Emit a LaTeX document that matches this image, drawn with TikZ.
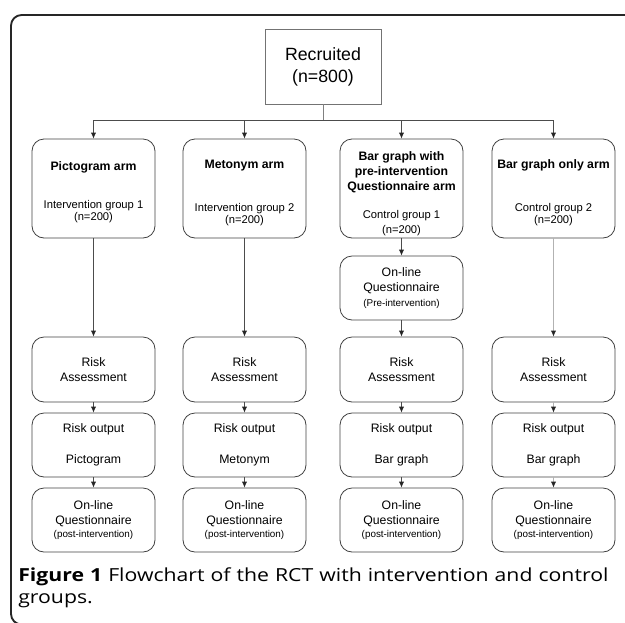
\documentclass[tikz,border=0pt]{standalone}
\usepackage{fontspec}
\setmainfont{Liberation Sans}
\newfontfamily\captionfont[FakeStretch=1.18]{Open Sans}
\usetikzlibrary{arrows.meta}

\newcommand{\grouptxt}[1]{{\fontsize{8.4}{11.25}\selectfont #1}}
\newcommand{\notetxt}[1]{{\fontsize{7.4}{11.25}\selectfont #1}}

\begin{document}
\begin{tikzpicture}[x=0.75pt, y=-0.75pt,
  armbox/.style={draw=black!75, line width=0.6pt, rounded corners=9pt,
    minimum width=92.25pt, minimum height=48pt, inner sep=0pt, align=center,
    font=\fontsize{9.2}{11.25}\selectfont},
  headbox/.style={armbox, minimum height=74.25pt},
  flow/.style={draw=black!70, line width=0.6pt,
    -{Latex[length=4.5pt,width=4pt,color=black!85]}},
  faint/.style={flow, draw=black!30}]
  \useasboundingbox (0,0) rectangle (625,622);
  \clip (0,0) rectangle (625,622);

  % Rahmen
  \draw[line width=1.4pt, black!85, rounded corners=8pt] (11,624.5) rectangle (645,15);

  % Recruited
  \node[draw=black!55, line width=0.6pt, minimum width=87pt, minimum height=56.25pt,
    align=center, font=\fontsize{13.3}{16.5}\selectfont] (recruited) at (323,66.5)
    {Recruited\\(n=800)};
  \coordinate (split) at (323,120);

  % Arms
  \node[headbox] (pictogram) at (93.5,188.5) {
    \rule{0pt}{12.7pt}\textbf{Pictogram arm}\\[17pt]
    \grouptxt{Intervention group 1}\\[-2pt]
    \grouptxt{(n=200)}
  };
  \node[headbox] (metonym) at (244.5,188.5) {
    \rule{0pt}{12.7pt}\textbf{Metonym arm}\\[21pt]
    \grouptxt{Intervention group 2}\\[-2pt]
    \grouptxt{(n=200)}
  };
  \node[headbox] (bargraphpre) at (401.5,188.5) {
    \rule{0pt}{14.2pt}\textbf{Bar graph with}\\
    \textbf{pre-intervention}\\
    \textbf{Questionnaire arm}\\[9.75pt]
    \grouptxt{Control group 1}\\
    \grouptxt{(n=200)}
  };
  \node[headbox] (bargraph) at (553.5,188.5) {
    \rule{0pt}{12.7pt}\textbf{Bar graph only arm}\\[21pt]
    \grouptxt{Control group 2}\\[-2pt]
    \grouptxt{(n=200)}
  };

  % Pre-intervention questionnaire
  \node[armbox] (prequest) at (401.5,288) {
    On-line\\Questionnaire\\\notetxt{(Pre-intervention)}
  };

  % Risk Assessment
  \node[armbox, minimum height=48.75pt] (riskpict) at (93.5,369.5) {Risk\\Assessment};
  \node[armbox, minimum height=48.75pt] (riskmeto) at (244.5,369.5) {Risk\\Assessment};
  \node[armbox, minimum height=48.75pt] (riskpre) at (401.5,369.5) {Risk\\Assessment};
  \node[armbox, minimum height=48.75pt] (riskbar) at (553.5,369.5) {Risk\\Assessment};

  % Risk output
  \node[armbox] (outpict) at (93.5,445) {Risk output\\[12pt]Pictogram};
  \node[armbox] (outmeto) at (244.5,445) {Risk output\\[12pt]Metonym};
  \node[armbox] (outpre) at (401.5,445) {Risk output\\[12pt]Bar graph};
  \node[armbox] (outbar) at (553.5,445) {Risk output\\[12pt]Bar graph};

  % Post-intervention questionnaire
  \node[armbox] (postpict) at (93.5,520) {On-line\\Questionnaire\\[-1pt]\notetxt{(post-intervention)}};
  \node[armbox] (postmeto) at (244.5,520) {On-line\\Questionnaire\\[-1pt]\notetxt{(post-intervention)}};
  \node[armbox] (postpre) at (401.5,520) {On-line\\Questionnaire\\[-1pt]\notetxt{(post-intervention)}};
  \node[armbox] (postbar) at (553.5,520) {On-line\\Questionnaire\\[-1pt]\notetxt{(post-intervention)}};

  % Pfeile
  \draw[draw=black!50, line width=0.6pt] (recruited) -- (split);
  \draw[flow] (split) -| (pictogram);
  \draw[flow] (split) -| (metonym);
  \draw[flow] (split) -| (bargraphpre);
  \draw[flow] (split) -| (bargraph);

  \draw[flow] (pictogram) -- (riskpict);
  \draw[flow] (metonym) -- (riskmeto);
  \draw[flow] (bargraphpre) -- (prequest);
  \draw[flow] (prequest) -- (riskpre);
  \draw[faint] (bargraph) -- (riskbar);

  \draw[flow] (riskpict) -- (outpict);
  \draw[flow] (riskmeto) -- (outmeto);
  \draw[flow] (riskpre) -- (outpre);
  \draw[faint] (riskbar) -- (outbar);

  \draw[flow] (outpict) -- (postpict);
  \draw[flow] (outmeto) -- (postmeto);
  \draw[flow] (outpre) -- (postpre);
  \draw[faint] (outbar) -- (postbar);

  % Caption
  \node[anchor=north west, inner sep=0pt, text width=447.75pt, align=left,
    font=\captionfont\fontsize{13.5}{16.5}\selectfont] (caption) at (18,567)
    {\makebox[447.75pt][s]{\textbf{Figure 1} Flowchart of the RCT with intervention and control}\\groups.};
\end{tikzpicture}
\end{document}
